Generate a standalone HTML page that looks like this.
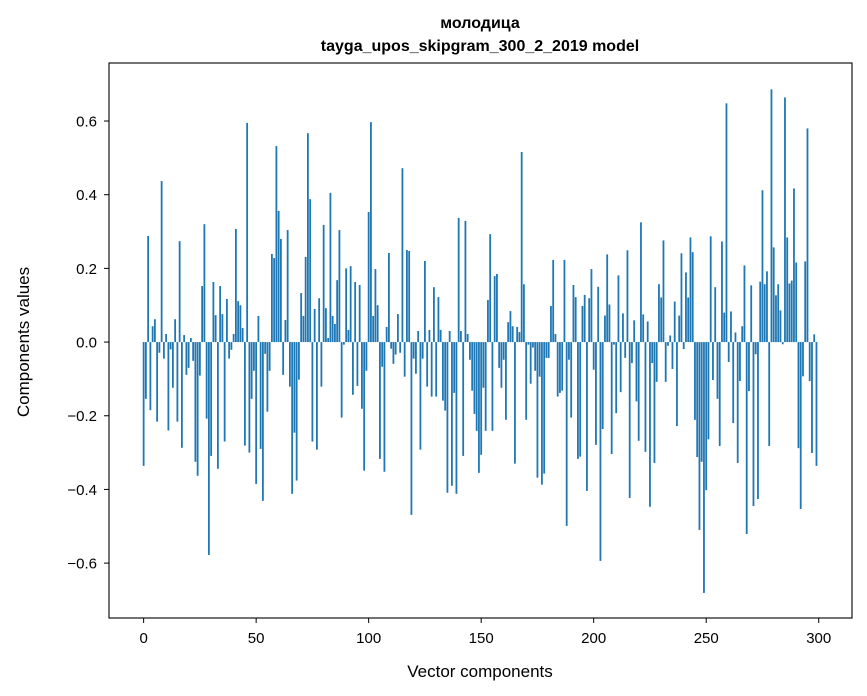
<!DOCTYPE html>
<html><head><meta charset="utf-8"><style>
body{margin:0;background:#fff;}
svg{display:block;font-family:"Liberation Sans","DejaVu Sans",sans-serif;}
</style></head><body>
<svg id="chart" width="867" height="696" viewBox="0 0 867 696">
<rect width="867" height="696" fill="#fff"/>
<text x="480" y="28" text-anchor="middle" font-size="16" font-weight="bold">молодица</text>
<text x="480" y="51" text-anchor="middle" font-size="16" font-weight="bold">tayga_upos_skipgram_300_2_2019 model</text>
<g id="bars"></g>
<g id="axes"></g>
<rect x="109" y="63" width="743" height="555" fill="none" stroke="#000" stroke-width="1.1"/>
<text x="480" y="677" text-anchor="middle" font-size="17">Vector components</text>
<text transform="translate(29,342) rotate(-90)" text-anchor="middle" font-size="17">Components values</text>
</svg>
<script>
const values = [
-0.336,-0.154,0.288,-0.185,0.043,0.062,-0.216,-0.029,0.437,-0.045,
0.022,-0.24,-0.02,-0.124,0.062,-0.216,0.274,-0.287,0.019,-0.089,
-0.07,0.011,-0.051,-0.325,-0.363,-0.091,0.152,0.32,-0.208,-0.578,
-0.309,0.163,0.073,-0.344,0.152,0.076,-0.27,0.117,-0.045,-0.021,
0.022,0.307,0.111,0.1,0.038,-0.281,0.595,-0.3,-0.154,-0.078,
-0.385,0.071,-0.29,-0.431,-0.032,-0.189,-0.078,0.239,0.228,0.532,
0.356,0.28,-0.089,0.06,0.304,-0.121,-0.412,-0.246,-0.376,-0.102,
0.133,0.071,0.231,0.567,0.388,-0.27,0.09,-0.292,0.119,-0.121,
0.318,0.092,0.011,0.405,0.071,0.049,0.168,0.304,-0.205,-0.007,
0.2,0.033,0.206,-0.143,0.163,-0.119,0.155,-0.181,-0.349,-0.078,
0.353,0.597,0.071,0.198,0.1,-0.317,-0.067,-0.352,0.041,0.242,
-0.018,-0.059,-0.034,0.076,-0.029,0.472,-0.094,0.25,0.247,-0.469,
-0.045,-0.086,0.03,-0.292,-0.045,0.22,-0.121,0.033,-0.148,0.149,
-0.148,0.122,0.033,-0.159,-0.186,-0.409,0.03,-0.39,-0.138,-0.412,
0.337,0.03,-0.309,0.329,0.022,-0.048,-0.132,-0.195,-0.241,-0.355,
-0.306,-0.124,-0.241,0.114,0.293,-0.241,0.179,0.185,-0.07,-0.124,
-0.048,-0.211,0.054,0.084,0.043,-0.33,0.041,0.027,0.516,0.157,
-0.211,-0.007,-0.113,-0.015,-0.078,-0.368,-0.094,-0.387,-0.357,-0.043,
-0.043,0.098,0.223,0.022,-0.148,-0.138,-0.132,0.223,-0.499,-0.048,
-0.205,0.155,0.122,-0.317,-0.311,0.098,0.128,-0.404,0.119,0.198,
-0.075,-0.279,0.15,-0.594,-0.236,0.072,0.238,0.102,-0.304,-0.007,
-0.193,0.181,-0.136,0.078,-0.043,0.249,-0.423,-0.057,0.059,-0.161,
-0.268,0.325,0.075,-0.298,0.056,-0.447,-0.057,-0.328,-0.108,0.157,
0.121,0.276,-0.108,-0.01,0.018,-0.073,0.11,-0.228,0.072,0.241,
-0.019,0.189,0.121,0.284,0.244,-0.211,-0.312,-0.51,-0.325,-0.681,
-0.402,-0.264,0.287,-0.103,0.149,-0.154,-0.282,0.273,0.08,0.648,
-0.054,0.083,-0.22,0.026,-0.328,-0.106,0.043,0.208,-0.521,-0.133,
0.154,-0.445,-0.033,-0.426,0.164,0.412,0.157,0.192,-0.282,0.686,
0.257,0.127,0.157,0.086,-0.006,0.664,0.284,0.159,0.167,0.417,
0.216,-0.288,-0.453,-0.093,0.219,0.58,-0.106,-0.301,0.021,-0.336
];
const xTicks = [0,50,100,150,200,250,300];
const yTicks = [-0.6,-0.4,-0.2,0.0,0.2,0.4,0.6];
const yTickLabels = ["\u22120.6","\u22120.4","\u22120.2","0.0","0.2","0.4","0.6"];

const NS="http://www.w3.org/2000/svg";
const xMin=-15.39,xMax=314.79,pL=109,pR=852;
const yMin=-0.749,yMax=0.7575,pT=63,pB=618;
function xs(v){return pL+(v-xMin)/(xMax-xMin)*(pR-pL);}
function ys(v){return pB-(v-yMin)/(yMax-yMin)*(pB-pT);}
const bars=document.getElementById('bars');
values.forEach((v,i)=>{
  const r=document.createElementNS(NS,'rect');
  const x0=xs(i-0.4),x1=xs(i+0.4);
  const y0=ys(Math.max(v,0)),y1=ys(Math.min(v,0));
  r.setAttribute('x',x0);r.setAttribute('width',x1-x0);
  r.setAttribute('y',y0);r.setAttribute('height',Math.max(y1-y0,0.3));
  r.setAttribute('fill','#1f77b4');
  
  
  bars.appendChild(r);
});
const axes=document.getElementById('axes');
xTicks.forEach(t=>{
  const x=xs(t);
  const l=document.createElementNS(NS,'line');
  l.setAttribute('x1',x);l.setAttribute('x2',x);l.setAttribute('y1',618);l.setAttribute('y2',623);
  l.setAttribute('stroke','#000');
  
  
  axes.appendChild(l);
  const tx=document.createElementNS(NS,'text');
  tx.setAttribute('x',x);tx.setAttribute('y',643);tx.setAttribute('text-anchor','middle');tx.setAttribute('font-size','15');
  tx.textContent=t;
  
  
  axes.appendChild(tx);
});
yTicks.forEach((t,i)=>{
  const y=ys(t);
  const l=document.createElementNS(NS,'line');
  l.setAttribute('x1',104);l.setAttribute('x2',109);l.setAttribute('y1',y);l.setAttribute('y2',y);
  l.setAttribute('stroke','#000');
  
  
  axes.appendChild(l);
  const tx=document.createElementNS(NS,'text');
  tx.setAttribute('x',97);tx.setAttribute('y',y+5.5);tx.setAttribute('text-anchor','end');tx.setAttribute('font-size','15');
  tx.textContent=yTickLabels[i];
  
  
  axes.appendChild(tx);
});
</script>
</body></html>
